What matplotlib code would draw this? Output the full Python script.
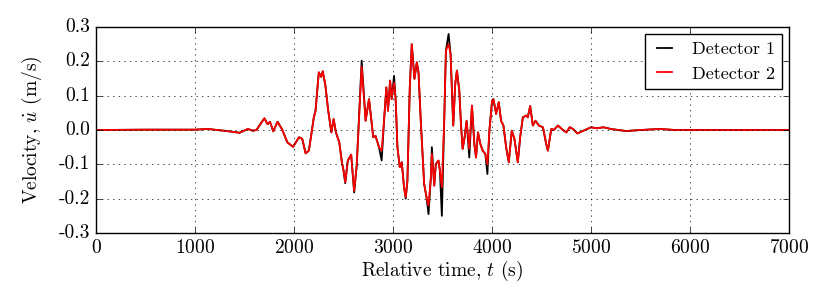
import matplotlib
matplotlib.use("Agg")
import matplotlib.pyplot as plt
import numpy as np

plt.style.use("classic")
plt.rcParams["font.family"] = "serif"
plt.rcParams["font.serif"] = ["cmr10"]
plt.rcParams["mathtext.fontset"] = "cm"
plt.rcParams["axes.formatter.use_mathtext"] = True
plt.rcParams["font.size"] = 14

# (t in s, velocity in m/s)
t = [0, 500, 1000, 1130, 1320, 1400, 1450, 1533, 1583, 1620, 1700, 1733, 1757, 1790,
     1833, 1877, 1933, 1990, 2050, 2083, 2117, 2150, 2200, 2217, 2250, 2273, 2290, 2317,
     2343, 2377, 2400, 2423, 2457, 2483, 2500, 2517, 2543, 2577, 2607, 2633, 2683, 2723,
     2757, 2800, 2823, 2858, 2885, 2909, 2932, 2949, 2970, 2986, 3010, 3027, 3044, 3068,
     3088, 3111, 3128, 3145, 3169, 3189, 3216, 3240, 3257, 3280, 3314, 3338, 3358, 3382,
     3392, 3416, 3432, 3459, 3473, 3493, 3517, 3534, 3561, 3581, 3608, 3628, 3645, 3669,
     3686, 3703, 3723, 3743, 3770, 3797, 3821, 3838, 3858, 3882, 3905, 3932, 3953, 3973,
     4000, 4014, 4041, 4068, 4091, 4115, 4142, 4169, 4199, 4226, 4260, 4284, 4311, 4345,
     4361, 4385, 4412, 4439, 4473, 4514, 4547, 4564, 4598, 4622, 4666, 4716, 4750, 4784,
     4818, 4862, 4900, 5000, 5060, 5125, 5200, 5353, 5500, 5690, 5850, 6000, 7000]

det2 = [0, 0.001, 0.001, 0.003, -0.003, -0.006, -0.008, 0.003, -0.002, 0.0, 0.034, 0.017,
        0.024, -0.004, 0.024, 0.003, -0.036, -0.049, -0.021, -0.026, -0.068, -0.060, 0.037,
        0.056, 0.168, 0.155, 0.171, 0.129, 0.061, -0.007, 0.032, -0.007, -0.036, -0.094,
        -0.118, -0.152, -0.089, -0.072, -0.177, -0.104, 0.185, 0.027, 0.090, -0.021, -0.017,
        -0.05, -0.06, 0.027, 0.124, 0.056, 0.144, 0.090, 0.139, 0.085, -0.05, -0.108, -0.094,
        -0.167, -0.196, -0.148, 0.124, 0.250, 0.149, 0.197, 0.168, 0.027, -0.157, -0.196,
        -0.22, -0.138, -0.07, -0.162, -0.099, -0.089, -0.118, -0.167, 0.027, 0.231, 0.250,
        0.221, 0.013, 0.134, 0.173, 0.115, 0.017, -0.055, -0.021, 0.027, -0.055, 0.071,
        -0.041, -0.080, -0.007, -0.041, -0.06, -0.07, -0.10, -0.002, 0.085, 0.090, 0.047,
        0.081, 0.027, 0.013, -0.05, -0.094, -0.002, -0.026, -0.094, -0.021, 0.037, 0.042,
        0.037, 0.070, 0.013, 0.027, 0.013, 0.008, -0.041, -0.060, 0.003, 0.0, 0.013, 0.0,
        -0.007, 0.008, 0.003, -0.01, -0.005, 0.008, 0.005, 0.008, 0.003, -0.003, 0.0, 0.003,
        0.0, 0.0, 0.0]

# detector 1 follows detector 2 except at a few peaks
det1 = list(det2)
det1_peaks = {2517: -0.155, 2607: -0.182, 2683: 0.202, 2885: -0.089, 3010: 0.158,
              3128: -0.20, 3358: -0.245, 3392: -0.05, 3493: -0.25, 3561: 0.280,
              3770: -0.080, 3953: -0.128}
for k, v in det1_peaks.items():
    det1[t.index(k)] = v

fig = plt.figure(figsize=(8.3, 3.02), dpi=100, facecolor="white")
ax = fig.add_axes([0.1157, 0.2285, 0.835, 0.682])
ax.plot(t, det1, color="black", lw=1.3, label="Detector 1")
ax.plot(t, det2, color="red", lw=1.3, label="Detector 2")

ax.set_xlim(0, 7000)
ax.set_ylim(-0.3, 0.3)
ax.set_yticks(np.arange(-0.3, 0.31, 0.1))
ax.yaxis.set_major_formatter(matplotlib.ticker.FormatStrFormatter("%.1f"))
ax.tick_params(labelsize=14)
ax.set_xlabel(r"Relative time, $t$ (s)", fontsize=14, labelpad=2)
ax.set_ylabel(r"Velocity, $\dot{u}$ (m/s)", fontsize=14, labelpad=11)
ax.grid(True, color="black", linestyle=":")
ax.legend(loc="upper right", fancybox=False, fontsize=13, handlelength=1.4,
          borderaxespad=0.4)

fig.savefig("out.png", dpi=100)
